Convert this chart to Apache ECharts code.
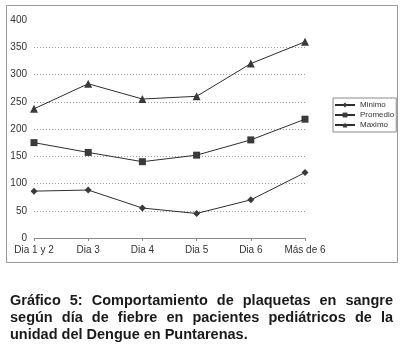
<!DOCTYPE html>
<html><head><meta charset="utf-8">
<script src="https://cdn.jsdelivr.net/npm/echarts@6/dist/echarts.min.js"></script>
<style>html,body{margin:0;padding:0;background:#fff}#c{width:406px;height:344px}</style>
</head><body><div id="c"></div>
<script>
var categories = ['Dia 1 y 2','Dia 3','Dia 4','Dia 5','Dia 6','Más de 6'];
var minimo = [86, 88, 55, 45, 70, 120];
var promedio = [175, 157, 140, 152, 180, 218];
var maximo = [237, 283, 255, 260, 320, 360];
var yTicks = [0, 50, 100, 150, 200, 250, 300, 350, 400];
var captionLines = [
  'Gráfico 5: Comportamiento de plaquetas en sangre',
  'según día de fiebre en pacientes pediátricos de la',
  'unidad del Dengue en Puntarenas.'
];

var chart = echarts.init(document.getElementById('c'), null, {renderer:'canvas'});
var capFont = 'bold 14.5px "Liberation Sans", Arial, sans-serif';
var cv = document.createElement('canvas').getContext('2d');
cv.font = capFont;
var capLeft = 10, capRight = 393, capMid = [301, 318, 335];
var graphics = [{
  type:'rect', shape:{x:6.5,y:5.5,width:391,height:257},
  style:{fill:'none', stroke:'#9a9a9a', lineWidth:1}, silent:true
}];
captionLines.forEach(function(line, i){
  var words = line.split(' ');
  var justify = i < captionLines.length - 1;
  var total = 0;
  words.forEach(function(w){ total += cv.measureText(w).width; });
  var gap = justify ? (capRight - capLeft - total) / (words.length - 1) : cv.measureText(' ').width;
  var x = capLeft;
  words.forEach(function(w){
    graphics.push({type:'text', x:x, y:capMid[i], style:{text:w, font:capFont, fill:'#1a1a1a', textVerticalAlign:'middle'}, silent:true});
    x += cv.measureText(w).width + gap;
  });
});

function mk(name, data, symbol, size){
  return {name:name, type:'line', data:data, symbol:symbol, symbolSize:size,
    lineStyle:{color:'#2e2e2e', width:1}, itemStyle:{color:'#3a3a3a'}, animation:false};
}
chart.setOption({
  animation:false,
  grid:{left:34, right:101, top:20, bottom:106, containLabel:false},
  legend:{orient:'vertical', left:333, top:98, padding:[3,2,3,1], itemGap:2,
    itemWidth:20, itemHeight:6, borderColor:'#8a8a8a', borderWidth:1,
    textStyle:{fontSize:8, color:'#333', fontFamily:'Liberation Sans, Arial, sans-serif'},
    data:['Minimo','Promedio','Maximo']},
  xAxis:{type:'category', data:categories, boundaryGap:false,
    axisLine:{lineStyle:{color:'#8a8a8a'}},
    axisTick:{show:true, length:3, inside:false, lineStyle:{color:'#8a8a8a'}},
    axisLabel:{fontSize:10, color:'#333', margin:7, fontFamily:'Liberation Sans, Arial, sans-serif'}},
  yAxis:{type:'value', min:yTicks[0], max:yTicks[yTicks.length-1], interval:50,
    axisLine:{show:false}, axisTick:{show:false},
    axisLabel:{fontSize:10, color:'#333', margin:7, fontFamily:'Liberation Sans, Arial, sans-serif'},
    splitLine:{show:true, showMaxLine:false, lineStyle:{color:'#9a9a9a', type:[1,2], width:1}}},
  series:[
    mk('Minimo', minimo, 'diamond', 7),
    mk('Promedio', promedio, 'rect', 7),
    mk('Maximo', maximo, 'triangle', 8)
  ],
  graphic:graphics
});
</script></body></html>
